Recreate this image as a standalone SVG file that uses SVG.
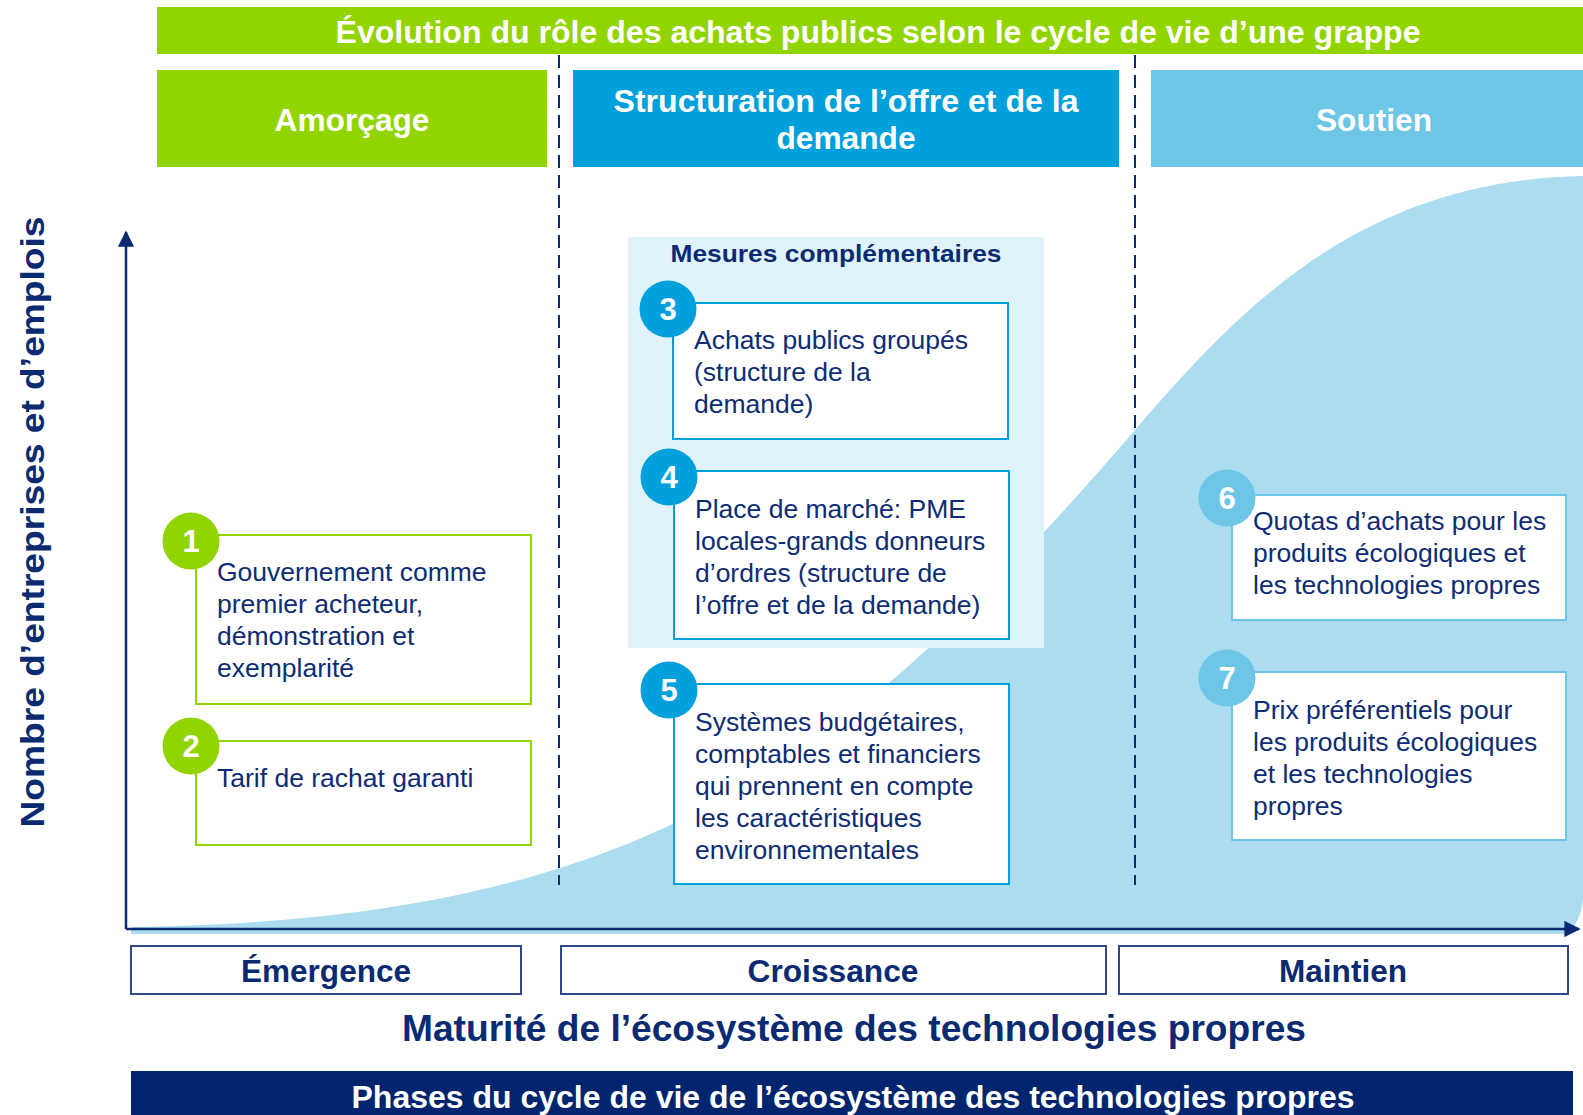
<svg xmlns="http://www.w3.org/2000/svg" width="1583" height="1115" viewBox="0 0 1583 1115">
  <defs>
    <style>
      .hdr { font-family: "Liberation Sans", Arial, sans-serif; font-weight: bold; fill: #ffffff; text-anchor: middle; }
      .navyb { font-family: "Liberation Sans", Arial, sans-serif; font-weight: bold; fill: #0a2a72; text-anchor: middle; }
      .body { font-family: "Liberation Sans", Arial, sans-serif; font-size: 26.5px; fill: #0d2c76; }
      .num { font-family: "Liberation Sans", Arial, sans-serif; font-weight: bold; font-size: 31px; fill: #ffffff; text-anchor: middle; }
      .box-g { fill: #ffffff; stroke: #92d400; stroke-width: 2; }
      .box-b { fill: #ffffff; stroke: #00a0dd; stroke-width: 2; }
      .box-l { fill: #ffffff; stroke: #6ec6e6; stroke-width: 2; }
      .phase { fill: #ffffff; stroke: #2b4a8c; stroke-width: 2; }
      .dash { stroke: #0a2a72; stroke-width: 2; stroke-dasharray: 13 7; fill: none; }
      .axis { stroke: #0a2a72; stroke-width: 2.5; fill: none; }
    </style>
    <marker id="arrow" viewBox="0 0 10 10" refX="9" refY="5" markerWidth="6.5" markerHeight="6.5" orient="auto-start-reverse" markerUnits="strokeWidth">
      <path d="M0,0 L10,5 L0,10 Z" fill="#0a2a72"/>
    </marker>
  </defs>

  <rect width="1583" height="1115" fill="#ffffff"/>

  <!-- growth curve of the ecosystem -->
  <path id="growth-curve" d="M131,927 C650,920 850,760 1135,430 C1240,308 1360,180 1583,176 L1583,895 Q1583,918 1568,934 L131,934 Z" fill="#abdcf0"/>

  <!-- title banner -->
  <g id="title">
    <rect x="157" y="7" width="1426" height="47" fill="#92d400"/>
    <text class="hdr" x="878" y="43" font-size="32" textLength="1085" lengthAdjust="spacingAndGlyphs">Évolution du rôle des achats publics selon le cycle de vie d’une grappe</text>
  </g>

  <!-- role headers -->
  <g id="hdr-amorcage">
    <rect x="157" y="70" width="390" height="97" fill="#92d400"/>
    <text class="hdr" x="352" y="131" font-size="31" textLength="155" lengthAdjust="spacingAndGlyphs">Amorçage</text>
  </g>
  <g id="hdr-structuration">
    <rect x="573" y="70" width="546" height="97" fill="#00a0dd"/>
    <text class="hdr" x="846" y="112" font-size="31" textLength="465" lengthAdjust="spacingAndGlyphs">Structuration de l’offre et de la</text>
    <text class="hdr" x="846" y="149" font-size="31" textLength="139" lengthAdjust="spacingAndGlyphs">demande</text>
  </g>
  <g id="hdr-soutien">
    <rect x="1151" y="70" width="432" height="97" fill="#6ec6e6"/>
    <text class="hdr" x="1374" y="131" font-size="31" textLength="116" lengthAdjust="spacingAndGlyphs">Soutien</text>
  </g>

  <!-- complementary measures panel -->
  <g id="mesures">
    <rect x="628" y="237" width="416" height="411" fill="#e1f3fa"/>
    <text class="navyb" x="836" y="262" font-size="24" textLength="331" lengthAdjust="spacingAndGlyphs">Mesures complémentaires</text>
  </g>

  <!-- phase separators and axes -->
  <g id="connectors">
    <line class="dash" x1="559" y1="55" x2="559" y2="885"/>
    <line class="dash" x1="1135" y1="55" x2="1135" y2="885"/>
    <line class="axis" x1="126" y1="929" x2="126" y2="232" marker-end="url(#arrow)"/>
    <line class="axis" x1="126" y1="929" x2="1579" y2="929" marker-end="url(#arrow)"/>
  </g>

  <!-- measure 1 -->
  <g id="m1">
    <rect class="box-g" x="196" y="535" width="335" height="169"/>
    <circle cx="191" cy="541" r="28.5" fill="#92d400"/>
    <text class="num" x="191" y="552">1</text>
    <text class="body" x="217" y="581">Gouvernement comme</text>
    <text class="body" x="217" y="613">premier acheteur,</text>
    <text class="body" x="217" y="645">démonstration et</text>
    <text class="body" x="217" y="677">exemplarité</text>
  </g>

  <!-- measure 2 -->
  <g id="m2">
    <rect class="box-g" x="196" y="741" width="335" height="104"/>
    <circle cx="191" cy="746" r="28.5" fill="#92d400"/>
    <text class="num" x="191" y="757">2</text>
    <text class="body" x="217" y="787">Tarif de rachat garanti</text>
  </g>

  <!-- measure 3 -->
  <g id="m3">
    <rect class="box-b" x="673" y="303" width="335" height="136"/>
    <circle cx="668" cy="309" r="28.5" fill="#00a0dd"/>
    <text class="num" x="668" y="320">3</text>
    <text class="body" x="694" y="349">Achats publics groupés</text>
    <text class="body" x="694" y="381">(structure de la</text>
    <text class="body" x="694" y="413">demande)</text>
  </g>

  <!-- measure 4 -->
  <g id="m4">
    <rect class="box-b" x="674" y="471" width="335" height="168"/>
    <circle cx="669" cy="477" r="28.5" fill="#00a0dd"/>
    <text class="num" x="669" y="488">4</text>
    <text class="body" x="695" y="518">Place de marché: PME</text>
    <text class="body" x="695" y="550">locales-grands donneurs</text>
    <text class="body" x="695" y="582">d’ordres (structure de</text>
    <text class="body" x="695" y="614">l’offre et de la demande)</text>
  </g>

  <!-- measure 5 -->
  <g id="m5">
    <rect class="box-b" x="674" y="684" width="335" height="200"/>
    <circle cx="669" cy="690" r="28.5" fill="#00a0dd"/>
    <text class="num" x="669" y="701">5</text>
    <text class="body" x="695" y="731">Systèmes budgétaires,</text>
    <text class="body" x="695" y="763">comptables et financiers</text>
    <text class="body" x="695" y="795">qui prennent en compte</text>
    <text class="body" x="695" y="827">les caractéristiques</text>
    <text class="body" x="695" y="859">environnementales</text>
  </g>

  <!-- measure 6 -->
  <g id="m6">
    <rect class="box-l" x="1232" y="495" width="334" height="125"/>
    <circle cx="1227" cy="498" r="28.5" fill="#6ec6e6"/>
    <text class="num" x="1227" y="509">6</text>
    <text class="body" x="1253" y="530">Quotas d’achats pour les</text>
    <text class="body" x="1253" y="562">produits écologiques et</text>
    <text class="body" x="1253" y="594">les technologies propres</text>
  </g>

  <!-- measure 7 -->
  <g id="m7">
    <rect class="box-l" x="1232" y="672" width="334" height="168"/>
    <circle cx="1227" cy="678" r="28.5" fill="#6ec6e6"/>
    <text class="num" x="1227" y="689">7</text>
    <text class="body" x="1253" y="719">Prix préférentiels pour</text>
    <text class="body" x="1253" y="751">les produits écologiques</text>
    <text class="body" x="1253" y="783">et les technologies</text>
    <text class="body" x="1253" y="815">propres</text>
  </g>

  <!-- axis titles -->
  <g id="y-label">
    <text class="navyb" transform="translate(44,522) rotate(-90)" font-size="34" textLength="611" lengthAdjust="spacingAndGlyphs">Nombre d’entreprises et d’emplois</text>
  </g>

  <!-- lifecycle phases -->
  <g id="ph-emergence">
    <rect class="phase" x="131" y="946" width="390" height="48"/>
    <text class="navyb" x="326" y="982" font-size="31" textLength="170" lengthAdjust="spacingAndGlyphs">Émergence</text>
  </g>
  <g id="ph-croissance">
    <rect class="phase" x="561" y="946" width="545" height="48"/>
    <text class="navyb" x="833" y="982" font-size="31" textLength="171" lengthAdjust="spacingAndGlyphs">Croissance</text>
  </g>
  <g id="ph-maintien">
    <rect class="phase" x="1119" y="946" width="449" height="48"/>
    <text class="navyb" x="1343" y="982" font-size="31" textLength="128" lengthAdjust="spacingAndGlyphs">Maintien</text>
  </g>

  <g id="x-label">
    <text class="navyb" x="854" y="1041" font-size="37" textLength="904" lengthAdjust="spacingAndGlyphs">Maturité de l’écosystème des technologies propres</text>
  </g>

  <g id="footer">
    <rect x="131" y="1071" width="1442" height="44" fill="#00256e"/>
    <text class="hdr" x="853" y="1108" font-size="32" textLength="1003" lengthAdjust="spacingAndGlyphs">Phases du cycle de vie de l’écosystème des technologies propres</text>
  </g>
</svg>
